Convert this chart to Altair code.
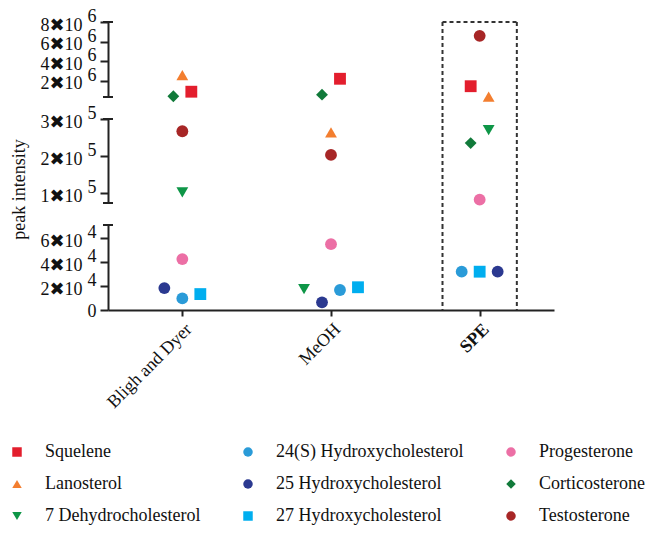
import altair as alt
import pandas as pd

# ---------------- data ----------------
methods = ["Bligh and Dyer", "MeOH", "SPE"]

# legend order (three columns, filled top to bottom)
compounds = ["Squelene", "Lanosterol", "7 Dehydrocholesterol",
             "24(S) Hydroxycholesterol", " 25 Hydroxycholesterol", "27 Hydroxycholesterol",
             "Progesterone", "Corticosterone", "Testosterone"]
shapes = ["square", "triangle-up", "triangle-down",
          "circle", "circle", "square",
          "circle", "diamond", "circle"]
colors = ["#E31E2D", "#F37E2F", "#0E9647",
          "#2A9BD8", "#2B3990", "#00AEEF",
          "#EC6FA5", "#117A3A", "#A72626"]

# peak intensity per compound: [Bligh and Dyer, MeOH, SPE]
squelene = [0.89e6, 2.21e6, 1.45e6]
lanosterol = [2.58e6, 2.64e5, 0.39e6]
dehydro7 = [1.02e5, 1.75e4, 2.70e5]
hydroxy24s = [0.97e4, 1.67e4, 3.2e4]
hydroxy25 = [1.83e4, 0.64e4, 3.2e4]
hydroxy27 = [1.33e4, 1.90e4, 3.2e4]
progesterone = [4.25e4, 5.5e4, 0.82e5]
corticosterone = [0.43e6, 0.59e6, 2.35e5]
testosterone = [2.67e5, 2.03e5, 6.59e6]

# side-by-side slot of each marker within its method column
squelene_slot = [1, 1, -1]
lanosterol_slot = [0, 0, 1]
dehydro7_slot = [0, -3, 1]
hydroxy24s_slot = [0, 1, -2]
hydroxy25_slot = [-2, -1, 2]
hydroxy27_slot = [2, 3, 0]
progesterone_slot = [0, 0, 0]
corticosterone_slot = [-1, -1, -1]
testosterone_slot = [0, 0, 0]

series = {
    "Squelene": (squelene, squelene_slot),
    "Lanosterol": (lanosterol, lanosterol_slot),
    "7 Dehydrocholesterol": (dehydro7, dehydro7_slot),
    "24(S) Hydroxycholesterol": (hydroxy24s, hydroxy24s_slot),
    " 25 Hydroxycholesterol": (hydroxy25, hydroxy25_slot),
    "27 Hydroxycholesterol": (hydroxy27, hydroxy27_slot),
    "Progesterone": (progesterone, progesterone_slot),
    "Corticosterone": (corticosterone, corticosterone_slot),
    "Testosterone": (testosterone, testosterone_slot),
}

top_ticks = [2e6, 4e6, 6e6, 8e6]
mid_ticks = [1e5, 2e5, 3e5]
low_ticks = [0, 2e4, 4e4, 6e4]

rows = []
for c, (vals, slots) in series.items():
    for i, m in enumerate(methods):
        rows.append({"compound": c, "method": m, "idx": i,
                     "slot": slots[i], "value": vals[i]})
df = pd.DataFrame(rows)

# ---------------- style ----------------
FONT = "Liberation Serif, DejaVu Sans"
FS = 18
W = 446
GAP = 22
INK = "#222222"
TXT = "#111111"
xscale = alt.Scale(domain=[-0.5, 2.5], nice=False, zero=False)

common_axis = dict(grid=False, domainColor=INK, domainWidth=2, tickColor=INK,
                   tickWidth=2, labelFont=FONT, labelFontSize=FS,
                   labelColor=TXT, labelOverlap=False, labelBound=False)

legend = alt.Legend(title=None, orient="none", legendX=-100, legendY=421,
                    columns=3, gridAlign="each", columnPadding=38,
                    rowPadding=14, padding=0, labelFont=FONT, labelFontSize=FS,
                    labelColor=TXT, symbolSize=90, labelOffset=19,
                    symbolStrokeWidth=0, labelLimit=400)

one = pd.DataFrame({"a": [0]})


def panel(lo, hi, domain, ticks, exp, div, height, title=None,
          x_axis=None, gap_below=True):
    yaxis = alt.Axis(values=ticks, tickSize=8, labelPadding=18, labelOffset=3,
                     labelExpr=f"datum.value == 0 ? '' : (datum.value / {div}) + '✖10'",
                     title=title, titleFont=FONT, titleFontSize=FS,
                     titleFontWeight="normal", titleColor=TXT,
                     titleX=-80, titleY=70, titleBaseline="bottom",
                     **common_axis)
    yscale = alt.Scale(domain=domain, nice=False, zero=False)
    pts = alt.Chart(df).transform_calculate(
        pos="datum.idx + datum.slot * 0.0605"
    ).transform_filter(
        f"datum.value >= {lo} && datum.value < {hi}"
    ).mark_point(filled=True, size=140, opacity=1).encode(
        x=alt.X("pos:Q", scale=xscale, axis=x_axis),
        y=alt.Y("value:Q", scale=yscale, axis=yaxis),
        color=alt.Color("compound:N",
                        scale=alt.Scale(domain=compounds, range=colors),
                        legend=legend),
        shape=alt.Shape("compound:N",
                        scale=alt.Scale(domain=compounds, range=shapes),
                        legend=legend),
    )
    expdf = pd.DataFrame({"value": [t for t in ticks if t != 0],
                          "e": [exp for t in ticks if t != 0]})
    exps = alt.Chart(expdf).mark_text(font=FONT, fontSize=FS, dy=-5,
                                      align="center", color=TXT).encode(
        x=alt.value(-16), y=alt.Y("value:Q", scale=yscale, axis=yaxis),
        text="e:N")
    layers = [pts, exps]
    if 0 in ticks:
        zero = alt.Chart(pd.DataFrame({"value": [0]})).mark_text(
            font=FONT, fontSize=FS, align="center", baseline="middle",
            color=TXT, dy=2).encode(x=alt.value(-16),
                                    y=alt.Y("value:Q", scale=yscale, axis=yaxis),
                                    text=alt.value("0"))
        layers.append(zero)
    # break caps at the ends of the axis segment
    caps = []
    if domain[0] != 0:
        caps.append(height)
    caps.append(0)
    for cy in caps:
        layers.append(alt.Chart(one).mark_rule(color=INK, strokeWidth=2).encode(
            x=alt.value(-5), x2=alt.value(5), y=alt.value(cy)))
    # dashed frame round the SPE column
    bottom = height + GAP if gap_below else height
    for bx in (1.75, 2.25):
        layers.append(alt.Chart(one).mark_rule(color="#333333", strokeWidth=2,
                                               strokeDash=[4, 3]).encode(
            x=alt.datum(bx), y=alt.value(0), y2=alt.value(bottom)))
    return alt.layer(*layers).properties(width=W, height=height)


top = panel(3.2e5, 1e8, [3.5e5, 8e6], top_ticks, "6", 1e6, 75)
top = alt.layer(top, alt.Chart(one).mark_rule(
    color="#333333", strokeWidth=2, strokeDash=[4, 3]).encode(
    x=alt.datum(1.75), x2=alt.datum(2.25), y=alt.value(0)))
mid = panel(7.2e4, 3.2e5, [7.3e4, 3e5], mid_ticks, "5", 1e5, 84,
            title="peak intensity")
xaxis = alt.Axis(values=[0, 1, 2],
                 labelExpr="['Bligh and Dyer', 'MeOH', 'SPE'][datum.value]",
                 labelAngle=-45, tickSize=6, labelPadding=4, title=None,
                 labelFontWeight={"condition": {"test": "datum.value == 2",
                                                "value": "bold"},
                                  "value": "normal"},
                 **common_axis)
low = panel(-1, 7.2e4, [0, 7.1e4], low_ticks, "4", 1e4, 85, x_axis=xaxis,
            gap_below=False)

chart = alt.vconcat(top, mid, low, spacing=GAP, bounds="flush").properties(
    padding={"left": 0, "top": 0, "right": 0, "bottom": 0}
).configure_view(stroke=None).configure_axis(labelOverlap=False)

chart.save("out.html", embed_options={"renderer": "svg", "actions": False})
